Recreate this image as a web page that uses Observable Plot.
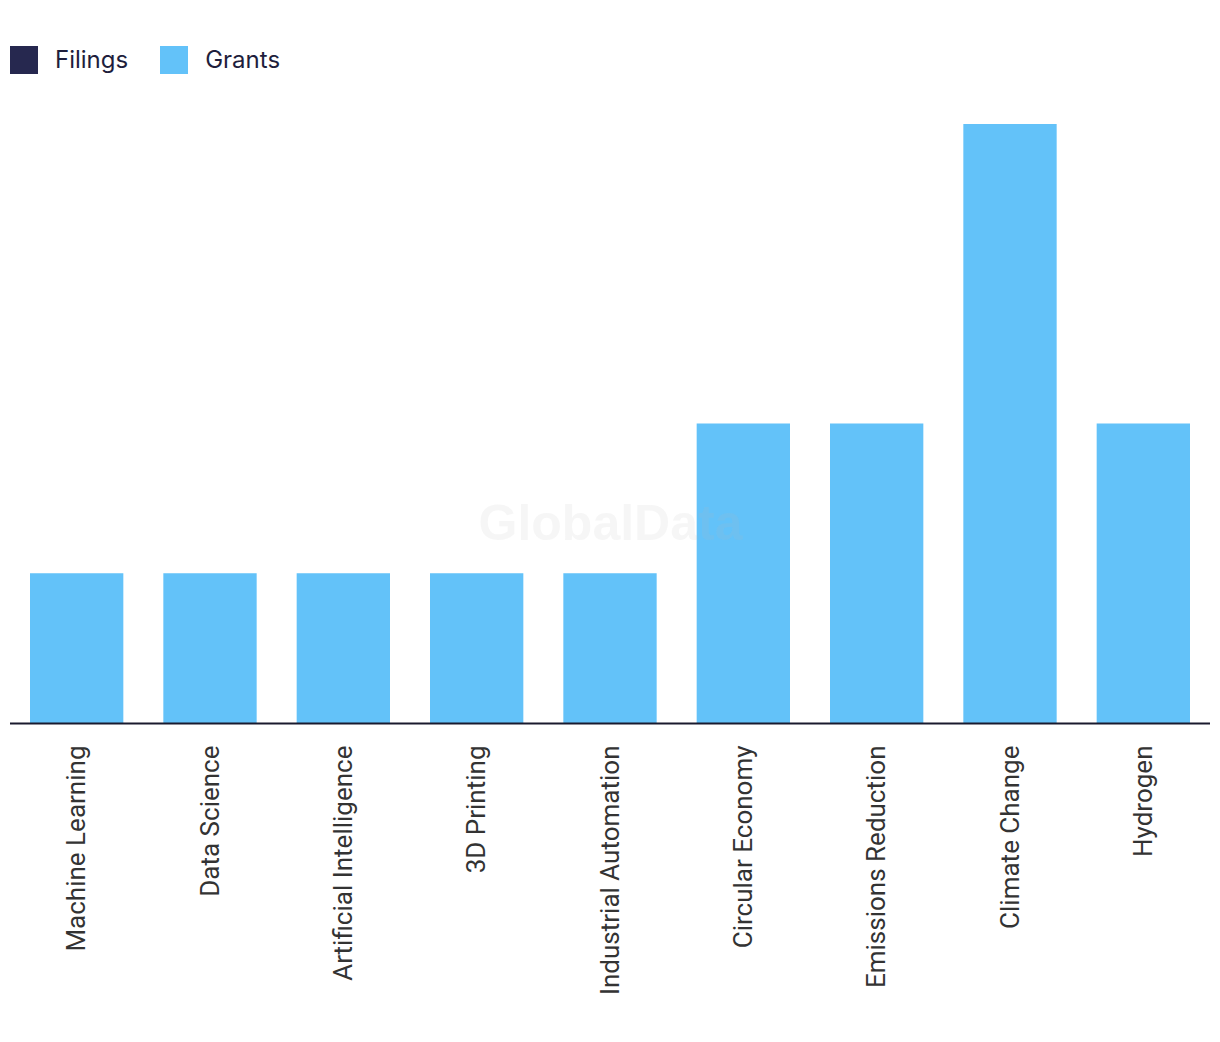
<!DOCTYPE html>
<html>
<head>
<meta charset="utf-8">
<script src="https://cdn.jsdelivr.net/npm/d3@7"></script>
<script src="https://cdn.jsdelivr.net/npm/@observablehq/plot@0.6"></script>
<style>
  html, body { margin: 0; padding: 0; background: #fff; }
  #legend { position: absolute; top: 45px; left: 10px; display: flex; align-items: center; font-family: Inter, "Noto Sans", sans-serif; font-size: 24px; color: #1e1e3c; }
  .item { display: flex; align-items: center; margin-right: 32px; }
  .sw { width: 28px; height: 28px; margin-right: 17px; }
  #chart { position: absolute; top: 100px; left: 0; }
</style>
</head>
<body>
<div id="legend"></div>
<div id="chart"></div>
<script>
const categories = ["Machine Learning", "Data Science", "Artificial Intelligence", "3D Printing", "Industrial Automation", "Circular Economy", "Emissions Reduction", "Climate Change", "Hydrogen"];
const filings = [0, 0, 0, 0, 0, 0, 0, 0, 0];
const grants = [1, 1, 1, 1, 1, 2, 2, 4, 2];
const seriesNames = ["Filings", "Grants"];
const seriesColors = ["#26284f", "#63c2f9"];

const legend = document.getElementById("legend");
seriesNames.forEach((s, i) => {
  const it = document.createElement("div");
  it.className = "item";
  it.innerHTML = `<div class="sw" style="background:${seriesColors[i]}"></div><span>${s}</span>`;
  legend.appendChild(it);
});

const data = [];
categories.forEach((c, i) => {
  data.push({category: c, series: "Filings", value: filings[i]});
  data.push({category: c, series: "Grants", value: grants[i]});
});

const chart = Plot.plot({
  width: 1220,
  height: 942,
  marginLeft: 10,
  marginRight: 10,
  marginTop: 24,
  marginBottom: 319,
  style: { fontFamily: "Roboto, sans-serif", fontSize: "26px", color: "#333", background: "transparent" },
  x: { domain: categories, paddingInner: 0.3, paddingOuter: 0.15, round: false, label: null },
  y: { domain: [0, 4], axis: null },
  color: { domain: seriesNames, range: seriesColors },
  marks: [
    Plot.barY(data, Plot.stackY({x: "category", y: "value", fill: "series", order: seriesNames})),
    Plot.axisX({tickRotate: -90, tickSize: 0, tickPadding: 22, fontSize: 26, fill: "#333", label: null}),
    Plot.text(["GlobalData"], {frameAnchor: "middle", dy: 100, text: d => d, fontSize: 50, fontWeight: "bold", fontFamily: "Liberation Sans, Arial, sans-serif", fill: "#bbbbbb", fillOpacity: 0.13}),
    Plot.ruleY([0], {stroke: "#1a1a2e", strokeWidth: 2})
  ]
});
document.getElementById("chart").appendChild(chart);
</script>
</body>
</html>
